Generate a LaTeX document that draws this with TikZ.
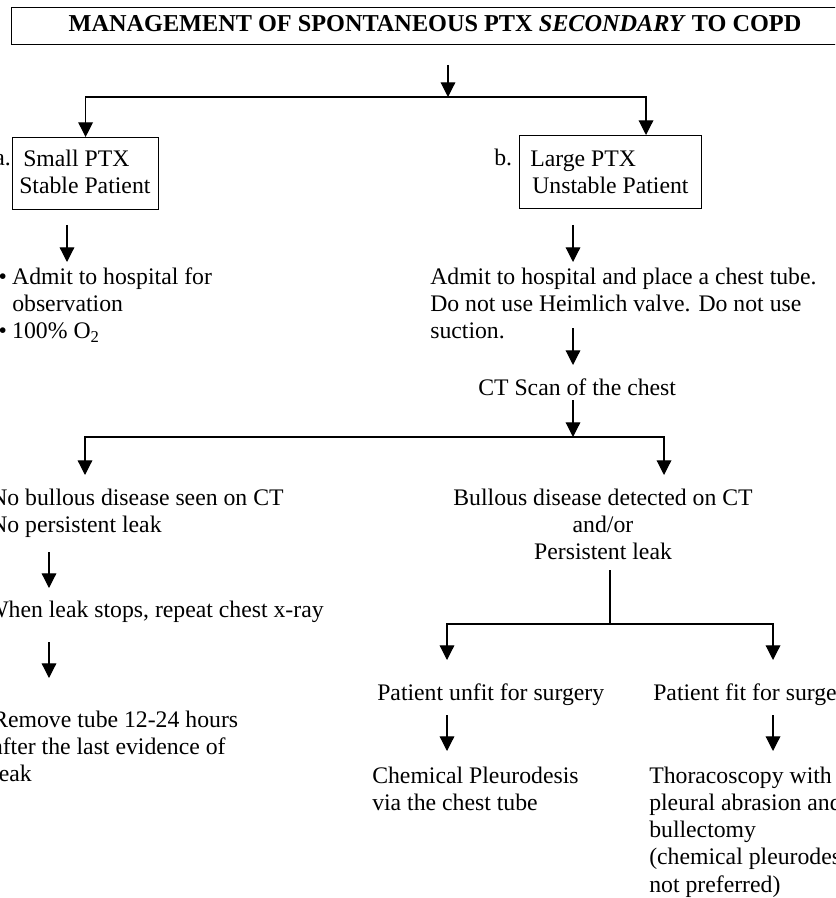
\documentclass[tikz,border=0pt]{standalone}
\usepackage{fontspec}
\setmainfont{Liberation Serif}
\usetikzlibrary{arrows.meta}
\newcommand\bodyfs{\fontsize{17.8}{20.4}\selectfont}
\newcommand\titlefs{\fontsize{18.2}{20.4}\selectfont\bfseries}
\tikzset{
  ln/.style={line width=0.9pt},
  arr/.style={ln,-{Triangle[length=11pt,width=11pt]}},
  bx/.style={draw,line width=0.9pt,inner sep=0pt,anchor=north west},
  txt/.style={inner sep=0pt,anchor=north west,yshift=14.28pt,font=\bodyfs,align=left},
  ctxt/.style={inner sep=0pt,anchor=north,yshift=14.28pt,font=\bodyfs,align=center},
  lbl/.style={inner sep=0pt,font=\bodyfs}
}
\begin{document}
\begin{tikzpicture}[x=0.75pt,y=-0.75pt]
\useasboundingbox (0,0) rectangle (835,898);
\begin{scope}
\clip (0,0) rectangle (835,898);
% title
\node[bx,minimum width=630pt,minimum height=27.75pt] (titlebox) at (11,7) {};
\node[inner sep=0pt,anchor=base,font=\titlefs] (title) at (435,32) {MANAGEMENT OF SPONTANEOUS PTX \textit{SECONDARY} TO COPD};
% boxes a and b
\node[bx,minimum width=109.5pt,minimum height=54pt] (boxa) at (12,137) {};
\node[txt] (ta) at (19,166) {\strut\hspace{3pt}Small PTX\\Stable Patient};
\node[lbl,anchor=base east] (la) at (11,166) {a.};
\node[bx,minimum width=136.5pt,minimum height=54.75pt] (boxb) at (519,135) {};
\node[txt] (tb) at (530,166) {\strut Large PTX\\\hspace{1.5pt}Unstable Patient};
\node[lbl,anchor=base west] (lb) at (494,166) {b.};
% top connectors
\coordinate (c0s) at (448,65);
\coordinate (c0e) at (448,97);
\coordinate (cR) at (646,135);
\draw[arr] (c0s) -- (c0e);
\draw[arr] (c0e) -| (boxa.north);
\draw[arr] (c0e) -| (cR);
% left branch a
\coordinate (a1s) at (67,225);
\coordinate (a1e) at (67,262);
\draw[arr] (a1s) -- (a1e);
\node[txt] (tbul) at (12,284) {\strut\llap{\textbullet\hspace{4pt}}Admit to hospital for\\observation\\\llap{\textbullet\hspace{4pt}}100\% O\textsubscript{2}};
% right branch b
\coordinate (b1s) at (573,225);
\coordinate (b1e) at (573,262);
\draw[arr] (b1s) -- (b1e);
\node[txt] (tadm) at (430,284) {\strut Admit to hospital and place a chest tube.\\Do not use Heimlich valve. Do not use\\suction.};
\coordinate (b2s) at (573,328);
\coordinate (b2e) at (573,365);
\draw[arr] (b2s) -- (b2e);
\node[lbl,anchor=base west] (tct) at (478,395) {CT Scan of the chest};
\coordinate (b3s) at (573,400);
\coordinate (j2) at (573,437);
\coordinate (jL2) at (85,475);
\coordinate (jR2) at (664,475);
\draw[arr] (b3s) -- (j2);
\draw[arr] (j2) -| (jL2);
\draw[arr] (j2) -| (jR2);
% lower left
\node[txt] (tnob) at (-10,505) {\strut No bullous disease seen on CT\\No persistent leak};
\coordinate (l1s) at (49,552);
\coordinate (l1e) at (49,588);
\draw[arr] (l1s) -- (l1e);
\node[lbl,anchor=base west] (twhen) at (-14,617) {When leak stops, repeat chest x-ray};
\coordinate (l2s) at (49,642);
\coordinate (l2e) at (49,678);
\draw[arr] (l2s) -- (l2e);
\node[txt] (trem) at (-8,727) {\strut Remove tube 12-24 hours\\after the last evidence of\\leak};
% lower right
\node[ctxt] (tbul2) at (603,505) {\strut Bullous disease detected on CT\\and/or\\Persistent leak};
\coordinate (r0s) at (610,570);
\coordinate (j3) at (610,624);
\coordinate (jL3) at (447,660);
\coordinate (jR3) at (773,660);
\draw[ln] (r0s) -- (j3);
\draw[arr] (j3) -| (jL3);
\draw[arr] (j3) -| (jR3);
\node[lbl,anchor=base west] (tunfit) at (377,700) {Patient unfit for surgery};
\node[lbl,anchor=base west] (tfit) at (653,700) {Patient fit for surgery};
\coordinate (u1s) at (447,715);
\coordinate (u1e) at (447,751);
\draw[arr] (u1s) -- (u1e);
\coordinate (f1s) at (773,715);
\coordinate (f1e) at (773,751);
\draw[arr] (f1s) -- (f1e);
\node[txt] (tchem) at (372,783) {\strut Chemical Pleurodesis\\via the chest tube};
\node[txt] (tthor) at (649,783) {\strut Thoracoscopy with\\pleural abrasion and\\bullectomy\\(chemical pleurodesis\\not preferred)};
\end{scope}
\end{tikzpicture}
\end{document}
